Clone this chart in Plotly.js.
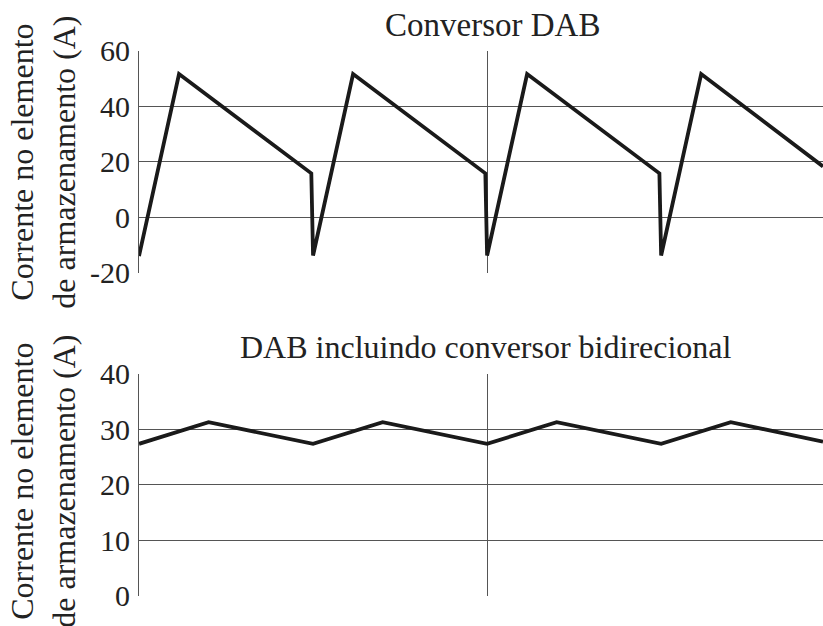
<!DOCTYPE html>
<html>
<head>
<meta charset="utf-8">
<script src="https://cdn.plot.ly/plotly-3.0.1.min.js"></script>
<style>
html,body{margin:0;padding:0;background:#fff;}
#chart{width:823px;height:626px;}
</style>
</head>
<body>
<div id="chart"></div>
<script>
// Time in switching periods (arbitrary units)
const topX = [0, 0.23, 0.99, 1.0, 1.23, 1.99, 2.0, 2.23, 2.99, 3.0, 3.23, 3.93];
const topY = [-14, 51.6, 15.8, -13.8, 51.6, 15.8, -13.8, 51.6, 15.8, -13.8, 51.6, 18.3];
const botX = [0, 0.4, 1.0, 1.4, 2.0, 2.4, 3.0, 3.4, 3.93];
const botY = [27.4, 31.3, 27.4, 31.3, 27.4, 31.3, 27.4, 31.3, 27.8];
const topTicks = [-20, 0, 20, 40, 60];
const botTicks = [0, 10, 20, 30, 40];
const xGrid = [0, 2];
const topTitle = 'Conversor DAB';
const botTitle = 'DAB incluindo conversor bidirecional';
const yTitle = 'Corrente no elemento<br>de armazenamento (A)';

const FONT = 'Liberation Serif';
const gridC = '#555555';

const xCommon = {
  range: [0, 3.93], tickvals: xGrid, showticklabels: false,
  showgrid: true, gridcolor: gridC, gridwidth: 1, zeroline: false, showline: false, ticks: ''
};
const yCommon = {
  showgrid: true, gridcolor: gridC, gridwidth: 1, zeroline: false,
  showline: true, linecolor: gridC, linewidth: 1,
  ticks: 'outside', ticklen: 2, tickcolor: 'rgba(0,0,0,0)',
  tickfont: {family: FONT, size: 30, color: '#222'}
};

const traces = [
  {x: topX, y: topY, type: 'scatter', mode: 'lines', xaxis: 'x', yaxis: 'y',
   line: {color: '#1a1a1a', width: 3.8}, hoverinfo: 'skip'},
  {x: botX, y: botY, type: 'scatter', mode: 'lines', xaxis: 'x2', yaxis: 'y2',
   line: {color: '#1a1a1a', width: 3.8}, hoverinfo: 'skip'}
];

const layout = {
  width: 823, height: 626,
  margin: {l: 139, r: 0, t: 0, b: 0},
  paper_bgcolor: '#fff', plot_bgcolor: '#fff',
  showlegend: false,
  font: {family: FONT, color: '#222'},
  xaxis: Object.assign({}, xCommon, {domain: [0, 1], anchor: 'y'}),
  yaxis: Object.assign({}, yCommon, {domain: [0.5644, 0.919], range: [-20, 60],
    tickvals: topTicks, ticktext: topTicks.map(String), anchor: 'x'}),
  xaxis2: Object.assign({}, xCommon, {domain: [0, 1], anchor: 'y2'}),
  yaxis2: Object.assign({}, yCommon, {domain: [0.0484, 0.4026], range: [0, 40],
    tickvals: botTicks, ticktext: botTicks.map(String), anchor: 'x2'}),
  annotations: [
    {text: topTitle, xref: 'paper', yref: 'paper', x: 0.5168, y: 0.928, xanchor: 'center', yanchor: 'bottom',
     showarrow: false, font: {family: FONT, size: 33, color: '#222'}},
    {text: botTitle, xref: 'paper', yref: 'paper', x: 0.507, y: 0.4137, xanchor: 'center', yanchor: 'bottom',
     showarrow: false, font: {family: FONT, size: 32, color: '#222'}},
    {text: yTitle, xref: 'paper', yref: 'paper', x: -0.1404, y: 0.7417, xanchor: 'center', yanchor: 'middle',
     textangle: -90, showarrow: false, font: {family: FONT, size: 32, color: '#222'}},
    {text: yTitle, xref: 'paper', yref: 'paper', x: -0.1404, y: 0.232, xanchor: 'center', yanchor: 'middle',
     textangle: -90, showarrow: false, font: {family: FONT, size: 32, color: '#222'}}
  ]
};

Plotly.newPlot('chart', traces, layout, {staticPlot: true, displayModeBar: false});
</script>
</body>
</html>
